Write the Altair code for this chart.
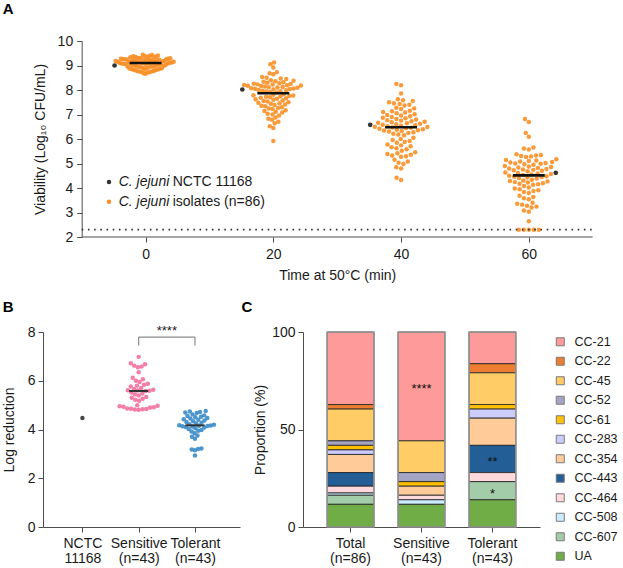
import json
import numpy as np
import pandas as pd
import altair as alt

FONT = "Liberation Sans"
INK = "#1a1a1a"
AXIS_GREY = "#4d4d4d"
ORANGE = "#F88F26"
DARK = "#333333"
PINK = "#F2709C"
BLUE = "#3A8BC9"

# ---------------- A: viability of 86 isolates after heating at 50 °C ----------------
times = [0, 20, 40, 60]

viability_0 = [
    9.43, 9.41, 9.44, 9.40,
    9.38, 9.36, 9.33, 9.35, 9.31, 9.37, 9.30, 9.34, 9.32, 9.39,
    9.28, 9.26, 9.21, 9.24, 9.29, 9.22, 9.27, 9.20, 9.25, 9.23, 9.28, 9.21, 9.26, 9.24,
    9.18, 9.15, 9.12, 9.17, 9.14, 9.19, 9.11, 9.16, 9.13, 9.10, 9.18, 9.15, 9.12, 9.11, 9.17, 9.14,
    9.08, 9.05, 9.02, 9.07, 9.04, 9.09, 9.01, 9.06, 9.03, 9.00, 9.08, 9.05, 9.02, 9.07,
    8.98, 8.95, 8.92, 8.97, 8.94, 8.99, 8.91, 8.96, 8.93, 8.90,
    8.88, 8.85, 8.82, 8.87, 8.84, 8.89, 8.81, 8.86, 8.83,
    8.78, 8.75, 8.72, 8.77, 8.74, 8.71, 8.76,
    8.68, 8.66,
]
viability_20 = [
    9.12, 9.05, 8.92, 8.72, 8.68, 8.64, 8.53, 8.50, 8.47, 8.45,
    8.40, 8.38, 8.36, 8.34, 8.32, 8.30,
    8.28, 8.26, 8.25, 8.23, 8.22, 8.20, 8.19, 8.18, 8.17, 8.16,
    8.14, 8.12, 8.11, 8.10, 8.09, 8.07, 8.06, 8.05, 8.04, 8.02,
    8.00, 7.99, 7.97, 7.95, 7.94, 7.92, 7.90,
    7.83, 7.81, 7.79, 7.78, 7.76, 7.74, 7.72,
    7.70, 7.68, 7.66, 7.64, 7.62, 7.60,
    7.57, 7.55, 7.53, 7.50, 7.48, 7.46,
    7.44, 7.41, 7.39, 7.36, 7.34,
    7.30, 7.27, 7.25, 7.22,
    7.17, 7.14, 7.11, 7.08,
    7.03, 7.00, 6.96,
    6.88, 6.83, 6.79,
    6.70, 6.64,
    6.52, 6.45,
    5.92,
]
viability_40 = [
    8.25, 8.19, 7.86, 7.62, 7.58, 7.55, 7.50, 7.46, 7.43, 7.40, 7.37,
    7.28, 7.25, 7.22, 7.15, 7.13, 7.10, 7.08, 7.05,
    7.01, 6.98, 6.96, 6.93, 6.90, 6.87, 6.85, 6.82, 6.80, 6.77, 6.75,
    6.72, 6.70, 6.68, 6.66, 6.64, 6.62, 6.60, 6.58, 6.56, 6.54, 6.52, 6.50, 6.49,
    6.47, 6.46, 6.44, 6.42, 6.40, 6.38, 6.36, 6.35, 6.33, 6.31, 6.28, 6.25,
    6.21, 6.18, 6.15, 6.05, 6.00, 5.96, 5.92, 5.88, 5.85,
    5.78, 5.74, 5.70, 5.66, 5.62, 5.58, 5.52,
    5.46, 5.42, 5.39, 5.36, 5.33, 5.30, 5.28,
    5.15, 5.08, 5.03, 4.98, 4.85, 4.80, 4.42, 4.33,
]
viability_60 = [
    6.82, 6.69, 6.25, 6.09, 5.65, 5.61, 5.57,
    5.38, 5.35, 5.33, 5.31, 5.29, 5.27,
    5.17, 5.14, 5.12, 5.10, 5.08, 5.06, 5.04, 5.02, 5.00, 4.99, 4.97, 4.95,
    4.90, 4.88, 4.86, 4.84, 4.82, 4.80, 4.78, 4.76, 4.74, 4.72, 4.70, 4.68,
    4.63, 4.61, 4.59, 4.57, 4.55, 4.53,
    4.50, 4.48, 4.46, 4.45, 4.43, 4.41, 4.39,
    4.34, 4.31, 4.29, 4.27, 4.24, 4.22, 4.19, 4.17, 4.15, 4.13,
    4.08, 4.02, 3.98, 3.95, 3.91, 3.88, 3.84, 3.80,
    3.68, 3.63, 3.58, 3.54,
    3.40, 3.36, 3.32, 3.28, 3.24, 3.20,
    3.08, 3.03, 2.64,
    2.30, 2.30, 2.30, 2.30, 2.30,
]
nctc_viability = [9.00, 8.02, 6.58, 4.62]
detection_limit = 2.3

# ---------------- B: log reduction after 60 min ----------------
reduction_labels = ["NCTC 11168", "Sensitive (n=43)", "Tolerant (n=43)"]
nctc_reduction = 4.47
sensitive_reduction = [
    6.98, 6.72, 6.68, 6.62, 6.58, 6.55, 6.35, 6.12, 6.06, 6.00, 5.95,
    5.88, 5.84, 5.80, 5.76, 5.70, 5.66, 5.63, 5.61, 5.60, 5.59, 5.58,
    5.52, 5.48, 5.45, 5.40, 5.33, 5.30, 5.26, 5.22, 5.18,
    5.00, 4.97, 4.95, 4.93, 4.91, 4.90, 4.86, 4.85, 4.84, 4.83, 4.82, 4.81,
]
tolerant_reduction = [
    4.76, 4.74, 4.72, 4.70, 4.68, 4.62, 4.58, 4.55, 4.52, 4.50, 4.47,
    4.45, 4.42, 4.40, 4.37, 4.34, 4.31, 4.28, 4.25, 4.22, 4.20, 4.17,
    4.16, 4.15, 4.14, 4.13, 4.12, 4.10, 4.08, 4.05, 4.02, 3.98, 3.95,
    3.92, 3.85, 3.75, 3.70, 3.62, 3.22, 3.20, 3.18, 3.15, 2.93,
]

# ---------------- C: clonal complexes per group (isolate counts) ----------------
cc_names = ["CC-21", "CC-22", "CC-45", "CC-52", "CC-61", "CC-283",
            "CC-354", "CC-443", "CC-464", "CC-508", "CC-607", "UA"]
cc_colors = ["#FF9A9A", "#ED7D31", "#FFCC66", "#A4A4C4", "#FFC000", "#CCCCFF",
             "#FFCC99", "#235E96", "#FFD9DC", "#CCECFF", "#A3CDA8", "#70AD47"]
group_labels = ["Total (n=86)", "Sensitive (n=43)", "Tolerant (n=43)"]
cc_counts = {
    "Total (n=86)":     [32, 2, 14, 2, 2, 2, 8, 6, 3, 1, 4, 10],
    "Sensitive (n=43)": [24, 0, 7, 2, 1, 0, 2, 0, 1, 1, 0, 5],
    "Tolerant (n=43)":  [7, 2, 7, 0, 1, 2, 6, 6, 2, 0, 4, 6],
}
significance = [("Sensitive (n=43)", "CC-21", "****"),
                ("Tolerant (n=43)", "CC-443", "**"),
                ("Tolerant (n=43)", "CC-607", "*")]

# ---------------- layout constants ----------------
A_PX_PER_MIN = 511 / 80          # horizontal scale of panel A
A_SHIFT = 38.7                   # panel A's y axis sits this far right of panel B's
A_W, A_H = 511 + A_SHIFT, 196
A_XDOM = [-10 - A_SHIFT / A_PX_PER_MIN, 70]
A_XAXIS = [-10, 70]
A_YDOM = [2, 10]
B_W, B_H = 197, 195
B_XDOM = [-0.7, 2.8]
C_W, C_H = 237, 195
DOT = 5.0
NCTC_SIDE = [-1, -1, -1, 1]   # side of the swarm row on which the reference strain sits


def beeswarm(values, y_px, diameter, max_half, last=None, side=0):
    """Greedy beeswarm offsets (pixels); an optional extra point is placed last."""
    vals = list(values) + ([last] if last is not None else [])
    n = len(values)
    order = sorted(range(n), key=lambda i: vals[i])
    if last is not None:
        order.append(n)
    ys = np.asarray(vals, float) * y_px
    xs = np.zeros(len(vals))
    px, py = [], []
    d2 = diameter ** 2
    for i in order:
        y = ys[i]
        cands = [0.0]
        for xj, yj in zip(px, py):
            dy = abs(yj - y)
            if dy < diameter:
                dx = (d2 - dy * dy) ** 0.5
                cands.extend([xj - dx, xj + dx])
        if i == n and side:
            cands = [c for c in cands if c * side >= 0]
        cands.sort(key=abs)
        chosen = cands[-1]
        for c in cands:
            if all((c - xj) ** 2 + (y - yj) ** 2 >= d2 - 1e-6 for xj, yj in zip(px, py)):
                chosen = c
                break
        xs[i] = chosen
        px.append(chosen)
        py.append(y)
    widest = np.abs(xs).max()
    if widest > max_half:
        xs *= max_half / widest
    return xs


def panel_letter(letter, dx, dy):
    return alt.Chart(pd.DataFrame({"p": [letter]})).mark_text(
        font=FONT, fontSize=15, fontWeight="bold", align="left",
        baseline="alphabetic", color="#000000"
    ).encode(text="p:N", x=alt.value(dx), y=alt.value(dy))


# ---------------- panel A ----------------
a_y_px = A_H / (A_YDOM[1] - A_YDOM[0])
rows = []
for t, vals, ref, side in zip(times, [viability_0, viability_20, viability_40, viability_60],
                              nctc_viability, NCTC_SIDE):
    off = beeswarm(vals, a_y_px, DOT, 31.0, last=ref, side=side)
    rows += [{"time": t, "value": v, "xpos": t + o / A_PX_PER_MIN, "strain": "isolate"}
             for v, o in zip(vals, off[:-1])]
    rows.append({"time": t, "value": ref, "xpos": t + off[-1] / A_PX_PER_MIN,
                 "strain": "NCTC 11168"})
df_a = pd.DataFrame(rows)


def ax_a(field):
    return alt.X(field, type="quantitative",
                 scale=alt.Scale(domain=A_XDOM, nice=False, zero=False),
                 axis=alt.Axis(values=times, title="Time at 50°C (min)", domain=False,
                               labelPadding=5, titlePadding=7, titleX=A_SHIFT + 511 / 2))


def ay_a(field):
    return alt.Y(field, type="quantitative",
                 scale=alt.Scale(domain=A_YDOM, nice=False, zero=False),
                 axis=alt.Axis(values=list(range(2, 11)), title="Viability (Log₁₀ CFU/mL)",
                               offset=-A_SHIFT, labelPadding=4, titlePadding=10))


iso = alt.Chart(df_a).transform_filter("datum.strain == 'isolate'")
a_points = iso.mark_circle(size=20, color=ORANGE, opacity=0.9).encode(
    x=ax_a("xpos"), y=ay_a("value"))
a_median = iso.transform_aggregate(
    med="median(value)", groupby=["time"]
).transform_calculate(lo="datum.time - 2.5", hi="datum.time + 2.5").mark_rule(
    color="#111111", strokeWidth=2.6
).encode(x=ax_a("lo"), x2="hi:Q", y=ay_a("med"))
a_nctc = alt.Chart(df_a).transform_filter("datum.strain != 'isolate'").mark_circle(
    size=22, color=DARK, opacity=1
).encode(x=ax_a("xpos"), y=ay_a("value"))
a_lines = alt.Chart(pd.DataFrame({
    "x0": [A_XAXIS[0], A_XAXIS[0]], "x1": [A_XAXIS[1], A_XAXIS[1]],
    "y": [A_YDOM[0], detection_limit], "kind": ["axis", "limit"]}))
a_xaxis_line = a_lines.transform_filter("datum.kind == 'axis'").mark_rule(
    color=AXIS_GREY, strokeWidth=1).encode(x=ax_a("x0"), x2="x1:Q", y=ay_a("y"))
a_lod = a_lines.transform_filter("datum.kind == 'limit'").mark_rule(
    color="#333333", strokeWidth=1.8, strokeDash=[1.6, 4.6]
).encode(x=ax_a("x0"), x2="x1:Q", y=ay_a("y"))


def key_row(color, rest, ypix):
    base = alt.Chart(pd.DataFrame({"sp": ["C. jejuni"], "rest": [rest]}))
    dot = base.mark_circle(size=20, color=color, opacity=1).encode(
        x=alt.value(A_SHIFT + 27.3), y=alt.value(ypix))
    sp = base.mark_text(font=FONT, fontSize=14, fontStyle="italic", align="left",
                        baseline="middle", color=INK).encode(
        text="sp:N", x=alt.value(A_SHIFT + 37), y=alt.value(ypix))
    tail = base.mark_text(font=FONT, fontSize=14, align="left",
                          baseline="middle", color=INK).encode(
        text="rest:N", x=alt.value(A_SHIFT + 91), y=alt.value(ypix))
    return [dot, sp, tail]


panel_a = alt.layer(
    a_points, a_median, a_nctc, a_lod, a_xaxis_line,
    *key_row(DARK, "NCTC 11168", 141.0),
    *key_row(ORANGE, "isolates (n=86)", 160.7),
    panel_letter("A", -40.3, -27.5),
).properties(width=A_W, height=A_H)

# ---------------- panel B ----------------
b_x_px = B_W / (B_XDOM[1] - B_XDOM[0])
b_y_px = B_H / 8
rows = [{"grp": 0, "group": reduction_labels[0], "value": nctc_reduction, "xpos": 0.0}]
for g, vals in ((1, sensitive_reduction), (2, tolerant_reduction)):
    off = beeswarm(vals, b_y_px, DOT, 19.0)
    rows += [{"grp": g, "group": reduction_labels[g], "value": v, "xpos": g + o / b_x_px}
             for v, o in zip(vals, off)]
df_b = pd.DataFrame(rows)

b_label_expr = "split(" + json.dumps(reduction_labels) + "[datum.value], ' ')"


def bx(field):
    return alt.X(field, type="quantitative",
                 scale=alt.Scale(domain=B_XDOM, nice=False, zero=False),
                 axis=alt.Axis(values=[0, 1, 2], labelExpr=b_label_expr, title=None,
                               labelPadding=4, labelLineHeight=15))


def by(field):
    return alt.Y(field, type="quantitative",
                 scale=alt.Scale(domain=[0, 8], nice=False),
                 axis=alt.Axis(values=[0, 2, 4, 6, 8], title="Log reduction",
                               labelPadding=3, titlePadding=11))


b_points = alt.Chart(df_b).mark_circle(size=20, opacity=0.9).encode(
    x=bx("xpos"), y=by("value"),
    color=alt.Color("group:N", scale=alt.Scale(domain=reduction_labels, range=[DARK, PINK, BLUE]),
                    legend=None))
b_median = alt.Chart(df_b).transform_filter("datum.grp > 0").transform_aggregate(
    med="median(value)", groupby=["grp"]
).transform_calculate(lo="datum.grp - 0.17", hi="datum.grp + 0.17").mark_rule(
    color="#333333", strokeWidth=2
).encode(x=bx("lo"), x2="hi:Q", y=by("med"))

bracket = {"left": 1, "right": 2, "top": 7.79, "foot": 7.45, "text": "****"}
br = alt.Chart(pd.DataFrame([bracket]))
b_br_h = br.mark_rule(color="#8a8a8a", strokeWidth=1.2).encode(
    x=bx("left"), x2="right:Q", y=by("top"))
b_br_l = br.mark_rule(color="#8a8a8a", strokeWidth=1.2).encode(
    x=bx("left"), y=by("top"), y2="foot:Q")
b_br_r = br.mark_rule(color="#8a8a8a", strokeWidth=1.2).encode(
    x=bx("right"), y=by("top"), y2="foot:Q")
b_star = br.transform_calculate(mid="(datum.left + datum.right) / 2").mark_text(
    font=FONT, fontSize=13, baseline="alphabetic", dy=-2, color=INK
).encode(x=bx("mid"), y=by("top"), text="text:N")

panel_b = alt.layer(
    b_points, b_median, b_br_h, b_br_l, b_br_r, b_star,
    panel_letter("B", -40.3, -20),
).properties(width=B_W, height=B_H)

# ---------------- panel C ----------------
rows = []
for g in group_labels:
    n = sum(cc_counts[g])
    for k, (cc, c) in enumerate(zip(cc_names, cc_counts[g])):
        if c > 0:
            mark = "".join(s for gg, cn, s in significance if gg == g and cn == cc)
            rows.append({"group": g, "cc": cc, "pct": 100.0 * c / n,
                         "rank": len(cc_names) - 1 - k, "sig": mark})
df_c = pd.DataFrame(rows)


def cx():
    return alt.X("group:N", sort=group_labels,
                 scale=alt.Scale(paddingInner=0.34, paddingOuter=0.34),
                 axis=alt.Axis(labelExpr="split(datum.value, ' ')", title=None, labelAngle=0,
                               labelPadding=4, labelLineHeight=15))


def cy(field):
    return alt.Y(field, type="quantitative",
                 scale=alt.Scale(domain=[0, 100], nice=False),
                 axis=alt.Axis(values=[0, 50, 100], title="Proportion (%)",
                               labelPadding=3, titlePadding=4))


c_base = alt.Chart(df_c).transform_stack(
    stack="pct", groupby=["group"],
    sort=[alt.SortField("rank", order="ascending")], as_=["y0", "y1"])
c_bars = c_base.mark_bar(stroke="#2b2b2b", strokeWidth=0.9).encode(
    x=cx(), y=cy("y0"), y2="y1:Q",
    color=alt.Color("cc:N", scale=alt.Scale(domain=cc_names, range=cc_colors),
                    legend=alt.Legend(title=None, orient="none", legendX=251, legendY=3.5,
                                      padding=0, symbolType="square", symbolSize=64,
                                      symbolStrokeColor="#7a7a7a", symbolStrokeWidth=1,
                                      labelFont=FONT, labelFontSize=12.5, labelColor=INK,
                                      labelOffset=8, rowPadding=6.5)))
c_outline = alt.Chart(df_c).transform_aggregate(
    total="sum(pct)", groupby=["group"]
).mark_bar(fillOpacity=0, stroke="#9a9a9a", strokeWidth=1.4).encode(
    x=cx(), y=cy("total"))
c_stars = c_base.transform_filter("datum.sig != ''").transform_calculate(
    mid="(datum.y0 + datum.y1) / 2"
).mark_text(font=FONT, fontSize=13, baseline="middle", dy=3, color="#111111").encode(
    x=cx(), y=cy("mid"), text="sig:N")

panel_c = alt.layer(
    c_bars, c_outline, c_stars,
    panel_letter("C", -61.6, -20),
).properties(width=C_W, height=C_H)

# ---------------- assemble ----------------
bottom_row = alt.hconcat(panel_b, panel_c, spacing=63, bounds="flush").resolve_scale(
    color="independent")

chart = alt.vconcat(panel_a, bottom_row, spacing=18).properties(
    padding={"left": 2, "top": 1, "right": 4, "bottom": 4}
).configure_view(stroke=None).configure_axis(
    domainColor=AXIS_GREY, tickColor=AXIS_GREY, domainWidth=1, tickWidth=1, tickSize=5,
    labelFont=FONT, titleFont=FONT, labelFontSize=14, titleFontSize=14,
    titleFontWeight="normal", labelColor=INK, titleColor=INK, grid=False,
)

chart.save("out.html", embed_options={"renderer": "svg", "actions": False})
